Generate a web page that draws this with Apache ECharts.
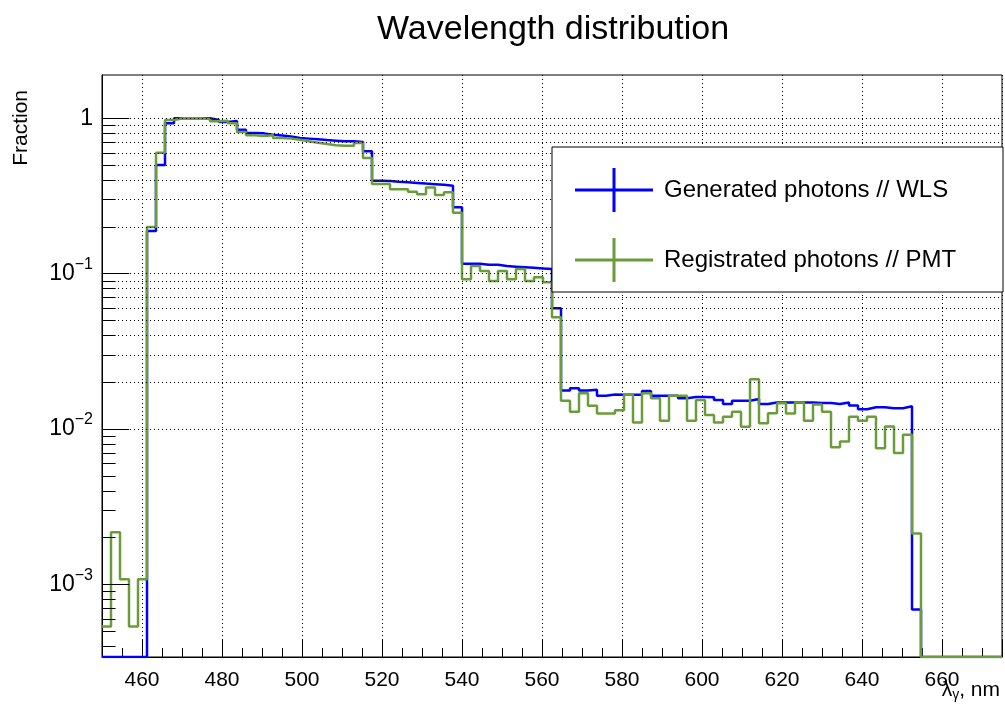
<!DOCTYPE html>
<html>
<head>
<meta charset="utf-8">
<script src="https://cdn.jsdelivr.net/npm/echarts@6/dist/echarts.min.js"></script>
<style>
html,body{margin:0;padding:0;background:#fff;}
#chart{width:1005px;height:709px;}
</style>
</head>
<body>
<div id="chart"></div>
<script>
// ---- data (fraction per bin, 100 bins of 2.25 nm from 450 to 675 nm) ----
const BIN_MIN = 450;
const BIN_WIDTH = 2.25;
const SERIES_NAMES = ['Generated photons // WLS', 'Registrated photons // PMT'];
const generatedWLS = [
  0, 0, 0, 0, 0, 0.188, 0.50, 0.93, 1.0, 1.0,
  1.0, 1.0, 0.975, 0.946, 0.96, 0.845, 0.804, 0.80, 0.785, 0.775,
  0.765, 0.747, 0.74, 0.733, 0.725, 0.718, 0.711, 0.711, 0.704, 0.613,
  0.397, 0.395, 0.39, 0.387, 0.384, 0.38, 0.377, 0.373, 0.368, 0.268,
  0.116, 0.116, 0.114, 0.114, 0.112, 0.111, 0.110, 0.109, 0.108, 0.107,
  0.060, 0.0177, 0.0183, 0.0177, 0.0179, 0.0164, 0.0167, 0.0166, 0.0166, 0.0166,
  0.0176, 0.0164, 0.0164, 0.0164, 0.0158, 0.0161, 0.0161, 0.0160, 0.0154, 0.0145,
  0.0152, 0.0152, 0.0156, 0.0145, 0.0148, 0.0148, 0.0148, 0.0148, 0.0148, 0.0147,
  0.0147, 0.0145, 0.0148, 0.0142, 0.0134, 0.0138, 0.0138, 0.0136, 0.0136, 0.0140,
  0.00069, 0, 0, 0, 0, 0, 0, 0, 0, 0
];
const registratedPMT = [
  0.000535, 0.00217, 0.00108, 0.000535, 0.00108, 0.20, 0.60, 0.975, 1.0, 1.0,
  1.0, 0.99, 0.956, 0.965, 0.93, 0.816, 0.777, 0.77, 0.777, 0.747,
  0.74, 0.728, 0.711, 0.697, 0.683, 0.67, 0.665, 0.665, 0.694, 0.556,
  0.378, 0.378, 0.349, 0.349, 0.337, 0.324, 0.358, 0.321, 0.334, 0.247,
  0.092, 0.112, 0.104, 0.0898, 0.104, 0.092, 0.107, 0.0898, 0.0948, 0.088,
  0.0524, 0.0152, 0.0129, 0.017, 0.0141, 0.0126, 0.0126, 0.0132, 0.0166, 0.011,
  0.017, 0.0158, 0.0113, 0.0164, 0.0164, 0.0113, 0.0154, 0.0123, 0.011, 0.012,
  0.0129, 0.01036, 0.0209, 0.0109, 0.01264, 0.01466, 0.0126, 0.0148, 0.0113, 0.0144,
  0.0129, 0.00764, 0.0083, 0.012, 0.0113, 0.012, 0.00753, 0.0104, 0.0070, 0.0092,
  0.00213, 0, 0, 0, 0, 0, 0, 0, 0, 0
];
// axis ranges and ticks
const X_MIN = 450, X_MAX = 675;
const Y_MIN = 3.41e-4, Y_MAX = 1.9;
const Y_DECADES = [1e-4, 1e-3, 1e-2, 1e-1, 1];
const Y_SUBMULT = [2, 3, 4, 5, 6, 7, 8, 9];

// ---- build ----
const FONT = 'Liberation Sans, Arial, Helvetica, sans-serif';
const BLUE = '#0000ff';
const GREEN = '#6b9c3b';

function histPoints(vals) {
  const pts = [];
  for (let k = 0; k < vals.length; k++) {
    const v = vals[k] > 0 ? vals[k] : Y_MIN;
    pts.push([BIN_MIN + k * BIN_WIDTH, v]);
  }
  const last = vals[vals.length - 1] > 0 ? vals[vals.length - 1] : Y_MIN;
  pts.push([BIN_MIN + vals.length * BIN_WIDTH, last]);
  return pts;
}

// grid / tick values on the log axis
const yGridVals = [];
const yMajorVals = [];
const yMinorVals = [];
Y_DECADES.forEach(d => {
  if (d >= Y_MIN && d <= Y_MAX) { yGridVals.push(d); yMajorVals.push(d); }
  Y_SUBMULT.forEach(m => {
    const v = d * m;
    if (v > Y_MIN && v < Y_MAX) { yGridVals.push(v); yMinorVals.push(v); }
  });
});
const TICK_MAJOR_NM = 6.8, TICK_MINOR_NM = 3.4;
const tickLines = [];
yMajorVals.forEach(v => tickLines.push([{coord: [X_MIN, v]}, {coord: [X_MIN + TICK_MAJOR_NM, v]}]));
yMinorVals.forEach(v => tickLines.push([{coord: [X_MIN, v]}, {coord: [X_MIN + TICK_MINOR_NM, v]}]));

const chart = echarts.init(document.getElementById('chart'), null, {renderer: 'canvas'});
chart.setOption({
  animation: false,
  backgroundColor: '#fff',
  textStyle: {fontFamily: FONT},
  title: {
    text: 'Wavelength distribution',
    left: 372, top: 8,
    textStyle: {fontSize: 34, fontWeight: 'normal', color: '#000', fontFamily: FONT}
  },
  grid: {
    left: 102, top: 75, width: 900, height: 582,
    outerBoundsMode: 'none',
    show: true, borderColor: '#000', borderWidth: 1, backgroundColor: 'transparent',
    containLabel: false
  },
  xAxis: {
    type: 'value', min: X_MIN, max: X_MAX, splitNumber: 10,
    name: '{a|λ}{b|γ}{a|, nm}',
    nameLocation: 'end', nameGap: 0, nameMoveOverlap: false,
    nameTextStyle: {
      align: 'right', verticalAlign: 'top', padding: [21, 2, 0, 0],
      rich: {
        a: {fontSize: 21, color: '#000', fontFamily: FONT},
        b: {fontSize: 14, color: '#000', fontFamily: FONT, padding: [10, 0, 0, 0]}
      }
    },
    axisLine: {show: true, lineStyle: {color: '#000', width: 1}},
    axisTick: {show: true, inside: true, length: 17, lineStyle: {color: '#000', width: 1}},
    minorTick: {show: true, splitNumber: 4, length: 9, lineStyle: {color: '#000', width: 1}},
    splitLine: {show: true, lineStyle: {color: '#000', width: 1, type: [1, 3]}},
    axisLabel: {fontSize: 21, color: '#000', margin: 13, fontFamily: FONT,
      showMinLabel: false, showMaxLabel: false}
  },
  yAxis: {
    type: 'log', logBase: 10, min: Y_MIN, max: Y_MAX,
    axisLine: {show: true, lineStyle: {color: '#000', width: 1}},
    axisTick: {show: false},
    minorTick: {show: false},
    splitLine: {show: false},
    axisLabel: {
      margin: 9, color: '#000', fontFamily: FONT,
      formatter: function (v) {
        const l = Math.log10(v);
        const e = Math.round(l);
        if (Math.abs(l - e) > 1e-6) return '';
        if (e === 0) return '{n|1}';
        return '{n|10}{s|\u2212' + (-e) + '}';
      },
      rich: {
        n: {fontSize: 23, color: '#000', fontFamily: FONT},
        s: {fontSize: 16, color: '#000', fontFamily: FONT, padding: [0, 0, 18, 0]}
      }
    }
  },
  legend: {
    show: true, orient: 'vertical', left: 570, top: 163,
    itemWidth: 78, itemHeight: 44, itemGap: 26,
    icon: 'path://M0 20.5 H78 V23.5 H0 Z M37.5 0 H40.5 V44 H37.5 Z',
    symbolKeepAspect: false,
    itemStyle: {borderWidth: 0},
    selectedMode: false,
    textStyle: {fontSize: 24, color: '#000', fontFamily: FONT, padding: [0, 0, 0, 6]},
    data: SERIES_NAMES,
    z: 20
  },
  graphic: [
    {type: 'rect', z: 15, shape: {x: 552, y: 147, width: 451, height: 145},
     style: {fill: '#fff', stroke: '#000', lineWidth: 1}},
    {type: 'text', z: 15, x: 21, y: 90, rotation: Math.PI / 2,
     style: {text: 'Fraction', font: '21px ' + FONT, fill: '#000', align: 'right', verticalAlign: 'middle'}}
  ],
  series: [
    {
      name: 'grid', type: 'line', data: [], z: 1, silent: true,
      markLine: {
        silent: true, symbol: ['none', 'none'], animation: false,
        label: {show: false},
        lineStyle: {color: '#000', width: 1, type: [1, 3]},
        emphasis: {disabled: true},
        data: yGridVals.map(v => ({yAxis: v}))
      }
    },
    {
      name: 'ticks', type: 'line', data: [], z: 2, silent: true,
      markLine: {
        silent: true, symbol: ['none', 'none'], animation: false,
        label: {show: false},
        lineStyle: {color: '#000', width: 1, type: 'solid'},
        emphasis: {disabled: true},
        data: tickLines
      }
    },
    {
      name: SERIES_NAMES[0], type: 'line', step: 'end', showSymbol: false, z: 3,
      color: BLUE, itemStyle: {color: BLUE},
      lineStyle: {color: BLUE, width: 2.5},
      data: histPoints(generatedWLS)
    },
    {
      name: SERIES_NAMES[1], type: 'line', step: 'end', showSymbol: false, z: 4,
      color: GREEN, itemStyle: {color: GREEN},
      lineStyle: {color: GREEN, width: 2.5},
      data: histPoints(registratedPMT)
    }
  ]
});
</script>
</body>
</html>
